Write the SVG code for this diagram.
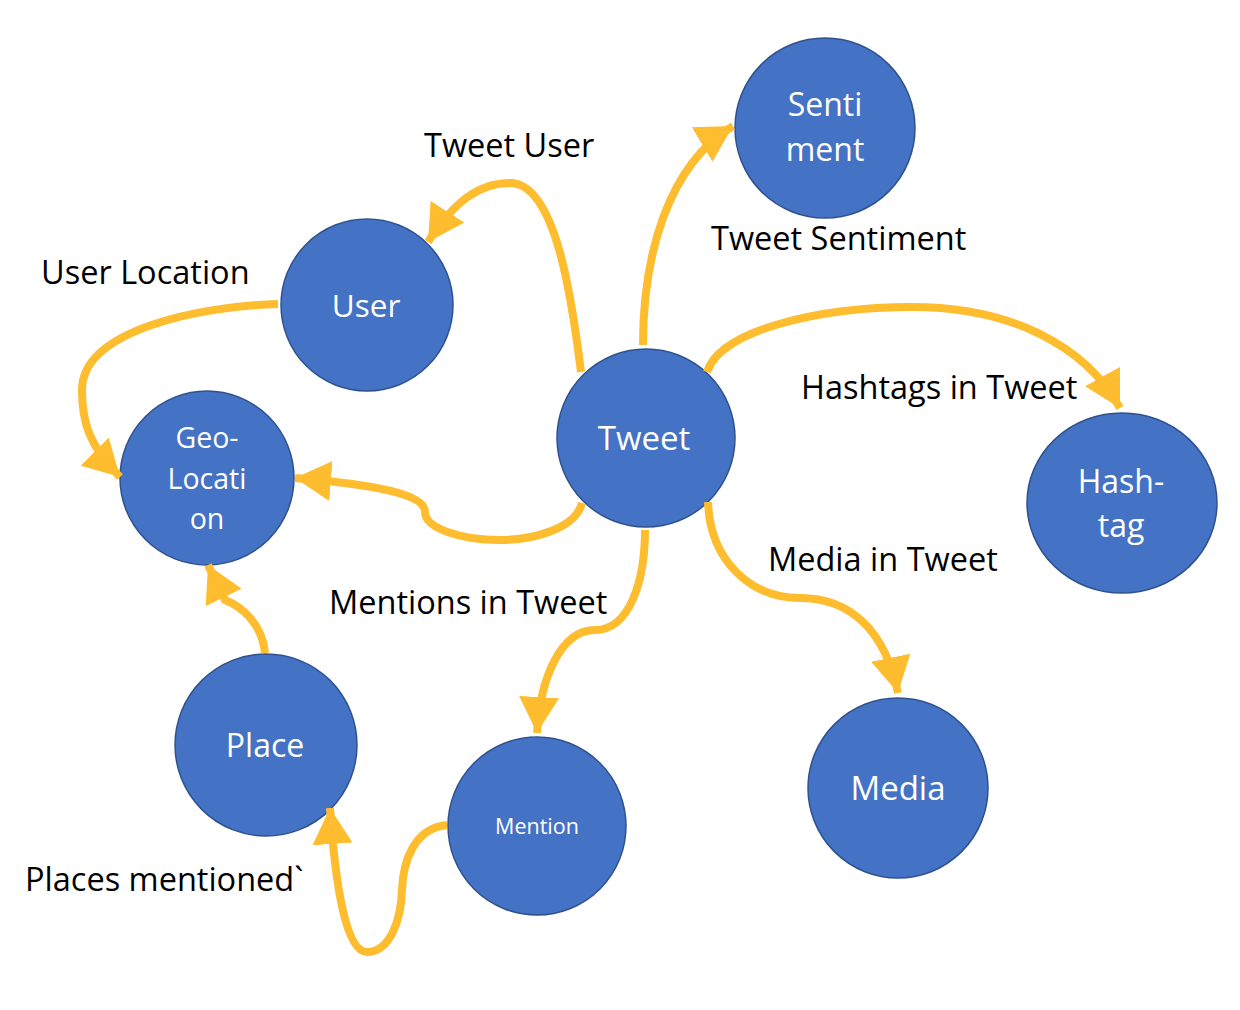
<svg xmlns="http://www.w3.org/2000/svg" width="1240" height="1010" viewBox="0 0 1240 1010">
<style>
.node{fill:#4472C4;stroke:#2F528F;stroke-width:1.5}
.nt{fill:#ffffff;font-family:"Open Sans",Lato,sans-serif;text-anchor:middle}
.lbl{fill:#000000;font-family:"Open Sans",Lato,sans-serif;font-size:32.5px}
.edge{fill:none;stroke:#FEBD2E;stroke-width:8}
</style>
<defs>
<marker id="ah" viewBox="0 0 36 40" markerUnits="userSpaceOnUse" markerWidth="36" markerHeight="40" refX="36" refY="20" orient="auto">
<path d="M0,0 L36,20 L0,40 z" fill="#FEBD2E"/>
</marker>
</defs>
<rect width="1240" height="1010" fill="#ffffff"/>
<g id="sentiment"><circle class="node" cx="825" cy="128" r="90"/><text class="nt" x="825" y="116" font-size="32">Senti</text><text class="nt" x="825" y="161" font-size="32">ment</text></g>
<g id="user"><circle class="node" cx="367" cy="305" r="86"/><text class="nt" x="366" y="317" font-size="31.5">User</text></g>
<g id="tweet"><circle class="node" cx="646" cy="438" r="89"/><text class="nt" x="644" y="450" font-size="33">Tweet</text></g>
<g id="geolocation"><circle class="node" cx="207" cy="478" r="87"/><text class="nt" x="207" y="448" font-size="28.5">Geo-</text><text class="nt" x="207" y="489" font-size="28.5">Locati</text><text class="nt" x="207" y="529" font-size="28.5">on</text></g>
<g id="hashtag"><ellipse class="node" cx="1122" cy="503" rx="95" ry="90"/><text class="nt" x="1121" y="493" font-size="32">Hash-</text><text class="nt" x="1121" y="537" font-size="32">tag</text></g>
<g id="place"><circle class="node" cx="266" cy="745" r="91"/><text class="nt" x="265" y="757" font-size="32">Place</text></g>
<g id="mention"><circle class="node" cx="537" cy="826" r="89"/><text class="nt" x="537" y="834" font-size="21.5">Mention</text></g>
<g id="media"><circle class="node" cx="898" cy="788" r="90"/><text class="nt" x="898" y="800" font-size="33">Media</text></g>
<g id="connectors">
<path class="edge" marker-end="url(#ah)" d="M581,372 C572,300 556,183 510,183 C480,183 455,200 428,242"/>
<path class="edge" marker-end="url(#ah)" d="M643,345 C643,255 668,165 733,126"/>
<path class="edge" marker-end="url(#ah)" d="M707,372 C720,330 820,307 912,307 C1010,307 1085,345 1120,408"/>
<path class="edge" marker-end="url(#ah)" d="M582,503 C575,530 530,540 500,540 C460,540 425,528 425,512 C425,495 380,485 295,478"/>
<path class="edge" marker-end="url(#ah)" d="M278,304 C200,306 82,330 82,390 C82,420 88,445 120,477"/>
<path class="edge" marker-end="url(#ah)" d="M645,530 C645,580 630,630 595,630 C560,630 540,680 537,733"/>
<path class="edge" marker-end="url(#ah)" d="M708,502 C710,560 750,598 800,598 C850,598 885,630 898,693"/>
<path class="edge" marker-end="url(#ah)" d="M265,653 C262,622 240,606 225,600 L208,565"/>
<path class="edge" marker-end="url(#ah)" d="M447,825 C415,828 403,860 402,890 C401,920 390,952 367,952 C345,952 335,880 330,808"/>
</g>
<g id="labels">
<text class="lbl" x="424" y="157">Tweet User</text>
<text class="lbl" x="41" y="284">User Location</text>
<text class="lbl" x="711" y="250">Tweet Sentiment</text>
<text class="lbl" x="801" y="399">Hashtags in Tweet</text>
<text class="lbl" x="768" y="571">Media in Tweet</text>
<text class="lbl" x="329" y="614">Mentions in Tweet</text>
<text class="lbl" x="25" y="891">Places mentioned`</text>
</g>
</svg>
